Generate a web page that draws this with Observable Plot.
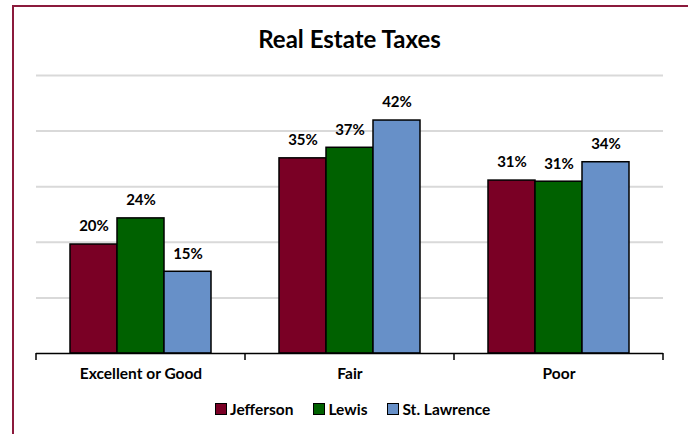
<!DOCTYPE html>
<html>
<head>
<meta charset="utf-8">
<script src="https://cdn.jsdelivr.net/npm/d3@7"></script>
<script src="https://cdn.jsdelivr.net/npm/@observablehq/plot@0.6"></script>
<style>
  html, body { margin: 0; padding: 0; background: #fff; }
  #wrap { position: relative; width: 688px; height: 434px; overflow: hidden; font-family: Lato, "Open Sans", sans-serif; }
  #border { position: absolute; left: 12px; top: 5px; right: -4px; bottom: -4px; border-top: 2px solid #8B1A3C; border-left: 2px solid #8B1A3C; }
  #title { position: absolute; left: 35px; width: 629px; top: 24px; text-align: center; font-size: 24px; font-weight: bold; color: #000; }
  #chart { position: absolute; left: 0; top: 0; }
  #legend { position: absolute; left: 215px; top: 400px; display: flex; gap: 20px; font-size: 15.5px; font-weight: bold; color: #000; }
  #legend .item { display: flex; align-items: center; gap: 3px; }
  #legend .sw { width: 10px; height: 10px; border: 1px solid #000; }
</style>
</head>
<body>
<div id="wrap">
  <div id="border"></div>
  <div id="chart"></div>
  <div id="title">Real Estate Taxes</div>
  <div id="legend"></div>
</div>
<script>
const categories = ["Excellent or Good", "Fair", "Poor"];
const series = ["Jefferson", "Lewis", "St. Lawrence"];
const colors = ["#7A0025", "#006100", "#6790C8"];
const jefferson = [19.6, 35.1, 31.1];
const lewis = [24.3, 37.0, 30.9];
const stLawrence = [14.7, 41.9, 34.4];
const gridTicks = [10, 20, 30, 40, 50];

const valuesBySeries = [jefferson, lewis, stLawrence];
const data = [];
categories.forEach((c, i) => {
  series.forEach((s, j) => {
    data.push({category: c, series: s, value: valuesBySeries[j][i]});
  });
});

const chart = Plot.plot({
  width: 688,
  height: 434,
  marginLeft: 35,
  marginRight: 24,
  marginTop: 75,
  marginBottom: 81,
  style: {fontFamily: "Lato, 'Open Sans', sans-serif", background: "transparent"},
  fx: {domain: categories, padding: 0, label: null},
  x: {domain: series, paddingInner: 0, paddingOuter: 0.70, axis: null},
  y: {domain: [0, 50], axis: null},
  color: {domain: series, range: colors},
  marks: [
    Plot.gridY(gridTicks, {stroke: "#d9d9d9", strokeOpacity: 1, strokeWidth: 2}),
    Plot.barY(data, {fx: "category", x: "series", y: "value", fill: "series", stroke: "#000", strokeWidth: 1.5}),
    Plot.text(data, {fx: "category", x: "series", y: "value", text: d => `${Math.round(d.value)}%`, dy: -18, fontSize: 15, fontWeight: "bold", fill: "#000"}),
    Plot.ruleY([0], {stroke: "#000", strokeWidth: 1.5}),
    Plot.axisFx({anchor: "bottom", tickSize: 0, tickPadding: 14, fontSize: 15.5, fontWeight: "bold", label: null, fill: "#000"})
  ]
});
document.getElementById("chart").appendChild(chart);

// boundary tick marks at category edges, positioned from Plot's fx and y scales
const fx = chart.scale("fx");
const ys = chart.scale("y");
const edges = categories.map(c => fx.apply(c));
edges.push(fx.apply(categories[categories.length - 1]) + fx.bandwidth);
const y0 = ys.apply(0);
const svg = d3.select(chart);
svg.append("g")
  .selectAll("line")
  .data(edges)
  .join("line")
  .attr("x1", d => d).attr("x2", d => d)
  .attr("y1", y0).attr("y2", y0 + 7)
  .attr("stroke", "#000").attr("stroke-width", 1.5);

const legend = d3.select("#legend");
series.forEach((s, i) => {
  const it = legend.append("div").attr("class", "item");
  it.append("div").attr("class", "sw").style("background", colors[i]);
  it.append("span").text(s);
});
</script>
</body>
</html>
